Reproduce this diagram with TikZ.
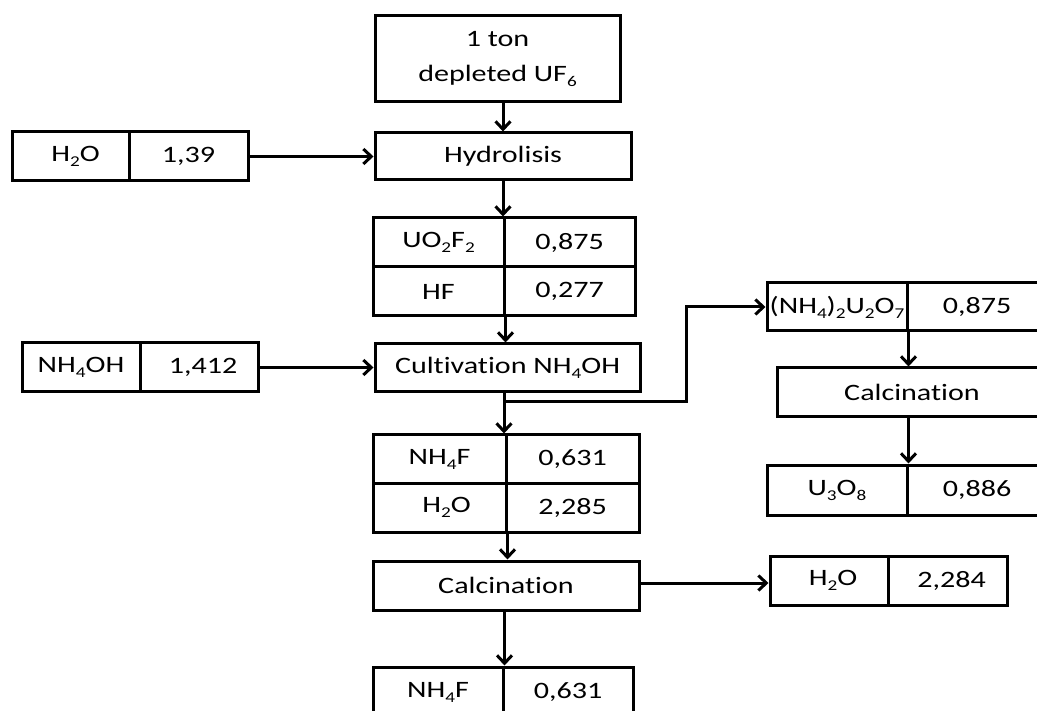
\documentclass[tikz,border=0pt]{standalone}
\usepackage{fontspec}
\setmainfont{Carlito}[FakeStretch=1.28,Ligatures=NoCommon]
\usetikzlibrary{arrows.meta,calc}
\newcommand{\chsub}[1]{\raisebox{-5pt}{\fontsize{15}{15}\selectfont #1}}

\begin{document}
\begin{tikzpicture}[x=1pt,y=-1pt,
            font=\fontsize{23.5}{35}\selectfont,
            cell/.style={draw, line width=3pt, inner sep=0pt, minimum height=49pt},
            arr/.style={line width=3pt, -{Straight Barb[length=8pt,width=15pt,line width=3pt]}},
        ]
        \useasboundingbox (0,0) rectangle (1037,711);
        % main column
        \node[cell, minimum width=245pt, minimum height=86pt, align=center] (start) at (497.5,59) {1 ton\\depleted UF\chsub{6}};
        \node[cell, minimum width=256pt, minimum height=47pt] (hyd) at (503,156.5) {Hydrolisis};
        \node[cell, minimum width=131pt] (uo) at (438.5,242.5) {UO\chsub{2}F\chsub{2}};
        \node[cell, minimum width=131pt] (uov) at (569.5,242.5) {0,875};
        \node[cell, minimum width=131pt] (hf) at (438.5,291.5) {HF};
        \node[cell, minimum width=131pt] (hfv) at (569.5,291.5) {0,277};
        \node[cell, minimum width=265pt, minimum height=48pt] (cult) at (507.5,368) {Cultivation NH\chsub{4}OH\hspace{14pt}};
        \node[cell, minimum width=133pt, minimum height=48pt] (nhf) at (439.5,459) {NH\chsub{4}F};
        \node[cell, minimum width=133pt, minimum height=48pt] (nhfv) at (572.5,459) {0,631};
        \node[cell, minimum width=133pt] (wat) at (439.5,507.5) {\hspace{14pt}H\chsub{2}O};
        \node[cell, minimum width=133pt] (watv) at (572.5,507.5) {2,285};
        \node[cell, minimum width=266pt] (calc) at (506,585.5) {Calcination};
        \node[cell, minimum width=130pt, minimum height=50pt] (prod) at (438,692) {NH\chsub{4}F};
        \node[cell, minimum width=130pt, minimum height=50pt] (prodv) at (568,692) {0,631};
        % inputs
        \node[cell, minimum width=117pt] (wa) at (70.5,156.5) {\hspace{10pt}H\chsub{2}O};
        \node[cell, minimum width=119pt] (wav) at (188.5,156.5) {1,39};
        \node[cell, minimum width=118pt] (amm) at (81,367.5) {NH\chsub{4}OH};
        \node[cell, minimum width=118pt] (ammv) at (199,367.5) {\hspace{8pt}1,412};
        % right column
        \node[cell, minimum width=140pt, minimum height=48pt] (adu) at (837,307) {(NH\chsub{4})\chsub{2}U\chsub{2}O\chsub{7}};
        \node[cell, minimum width=140pt, minimum height=48pt] (aduv) at (977,307) {0,875\hspace{12pt}};
        \node[cell, minimum width=270pt] (calcb) at (912,392.5) {Calcination\hspace{10pt}};
        \node[cell, minimum width=140pt, minimum height=50pt] (uox) at (837,490) {U\chsub{3}O\chsub{8}};
        \node[cell, minimum width=140pt, minimum height=50pt] (uoxv) at (977,490) {0,886\hspace{12pt}};
        \node[cell, minimum width=118pt] (vap) at (829,580.5) {\hspace{8pt}H\chsub{2}O};
        \node[cell, minimum width=119pt] (vapv) at (947.5,580.5) {\hspace{8pt}2,284};

        \coordinate (br) at (504,402);
        \draw[arr] (start.south -| hyd.north) -- (hyd.north);
        \draw[arr] (hyd.south) -- (hyd.south |- uo.north);
        \draw[arr] (hf.south east) -- (hf.south east |- cult.north);
        \draw[arr] (br |- cult.south) -- (br |- nhf.north);
        \draw[arr] (br) -- ++(182,0) |- (adu.west);
        \draw[arr] (wat.south east) -- (wat.south east |- calc.north);
        \draw[arr] (prod.north east |- calc.south) -- (prod.north east);
        \draw[arr] (wav.east) -- (wav.east -| hyd.west);
        \draw[arr] (ammv.east) -- (ammv.east -| cult.west);
        \draw[arr] ($(calc.east)+(0,-2.5)$) -- ($(calc.east -| vap.west)+(0,-2.5)$);
        \draw[arr] (adu.south east) -- (adu.south east |- calcb.north);
        \draw[arr] (calcb.south -| uox.north east) -- (uox.north east);
\end{tikzpicture}
\end{document}
